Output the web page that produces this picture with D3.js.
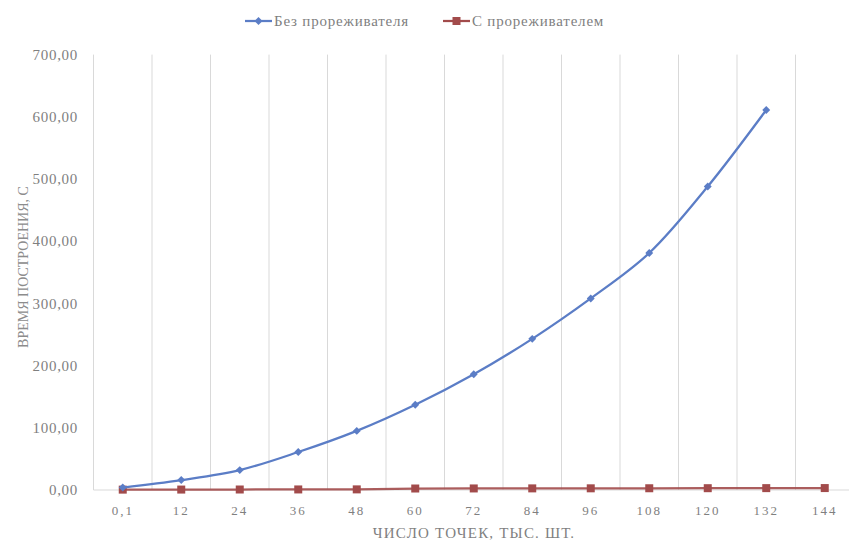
<!DOCTYPE html>
<html><head><meta charset="utf-8">
<script src="https://cdn.jsdelivr.net/npm/d3@7/dist/d3.min.js"></script>
<style>body{margin:0;background:#fff}svg{display:block}</style>
</head><body><svg id="c" width="849" height="545"></svg>
<script>
const categories = ["0,1","12","24","36","48","60","72","84","96","108","120","132","144"];
const seriesNames = ["Без прореживателя","С прореживателем"];
const withoutThinning = [4,16,32,61,95,137,186,243,308,381,488,611];
const withThinning = [0.6,0.7,0.8,0.9,1.0,2.4,2.5,2.6,2.7,2.8,2.9,3.0,3.1];
const yTicks = [0,100,200,300,400,500,600,700];
const yTitle = "ВРЕМЯ ПОСТРОЕНИЯ, С";
const xTitle = "ЧИСЛО ТОЧЕК, ТЫС. ШТ.";

const svg = d3.select("#c");
const font = "'Liberation Serif','DejaVu Serif',serif";
const blue = "#5b7dc6", red = "#a24b4b";
const L = 93.5, R = 854, T = 54.6, B = 490;

const x = d3.scaleBand().domain(categories).range([L, R]).paddingInner(0).paddingOuter(0);
const cx = d => x(d) + x.bandwidth()/2;
const y = d3.scaleLinear().domain([0,700]).range([B, T]);

// vertical gridlines
svg.append("g").selectAll("line").data(categories.slice(1)).join("line")
  .attr("x1", d => x(d)).attr("x2", d => x(d)).attr("y1", T).attr("y2", B)
  .attr("stroke", "#d9d9d9").attr("stroke-width", 1);
// axes lines
svg.append("line").attr("x1", L).attr("x2", L).attr("y1", T).attr("y2", B).attr("stroke", "#d9d9d9");
svg.append("line").attr("x1", L).attr("x2", R).attr("y1", B).attr("y2", B).attr("stroke", "#d9d9d9");

// y tick labels
const fmt = v => d3.format(".2f")(v).replace(".", ",");
svg.append("g").selectAll("text").data(yTicks).join("text")
  .attr("x", 78).attr("y", d => y(d)).attr("dy", "0.35em")
  .attr("text-anchor", "end").attr("font-family", font).attr("font-size", 15)
  .attr("letter-spacing", 0.7).attr("fill", "#7f7f7f").text(fmt);

// x tick labels
svg.append("g").selectAll("text").data(categories).join("text")
  .attr("x", d => cx(d)).attr("y", 510).attr("dy", "0.35em")
  .attr("text-anchor", "middle").attr("font-family", font).attr("font-size", 13)
  .attr("letter-spacing", 2).attr("fill", "#7f7f7f").text(d => d);

// axis titles
svg.append("text").attr("transform", `translate(23,267) rotate(-90)`)
  .attr("text-anchor", "middle").attr("dy", "0.35em").attr("font-family", font)
  .attr("font-size", 14).attr("fill", "#8c8c8c").text(yTitle);
svg.append("text").attr("x", 474).attr("y", 533).attr("dy", "0.35em")
  .attr("text-anchor", "middle").attr("font-family", font)
  .attr("font-size", 15).attr("letter-spacing", 1.2).attr("fill", "#7f7f7f").text(xTitle);

// red series
const lineRed = d3.line().x((d,i) => cx(categories[i])).y(d => y(d));
svg.append("path").datum(withThinning).attr("d", lineRed)
  .attr("fill", "none").attr("stroke", red).attr("stroke-width", 2.25).attr("stroke-opacity", 0.9);
svg.append("g").selectAll("rect").data(withThinning).join("rect")
  .attr("x", (d,i) => cx(categories[i]) - 4).attr("y", d => y(d) - 4)
  .attr("width", 8).attr("height", 8).attr("fill", red);

// blue series
const lineBlue = d3.line().x((d,i) => cx(categories[i])).y(d => y(d)).curve(d3.curveCatmullRom.alpha(0.5));
svg.append("path").datum(withoutThinning).attr("d", lineBlue)
  .attr("fill", "none").attr("stroke", blue).attr("stroke-width", 2.25);
const diamond = d3.symbol().type(d3.symbolDiamond2).size(40);
svg.append("g").selectAll("path").data(withoutThinning).join("path")
  .attr("transform", (d,i) => `translate(${cx(categories[i])},${y(d)})`)
  .attr("d", diamond).attr("fill", blue);

// legend
const lg = svg.append("g");
const items = [{name: seriesNames[0], color: blue, x0: 245, type: "d"}, {name: seriesNames[1], color: red, x0: 443, type: "s"}];
items.forEach(it => {
  lg.append("line").attr("x1", it.x0).attr("x2", it.x0 + 27).attr("y1", 21).attr("y2", 21)
    .attr("stroke", it.color).attr("stroke-width", 2.25);
  if (it.type === "d") {
    lg.append("path").attr("transform", `translate(${it.x0+13.5},21)`).attr("d", diamond).attr("fill", it.color);
  } else {
    lg.append("rect").attr("x", it.x0 + 9.5).attr("y", 17).attr("width", 8).attr("height", 8).attr("fill", it.color);
  }
  lg.append("text").attr("x", it.x0 + 29).attr("y", 21).attr("dy", "0.35em")
    .attr("font-family", font).attr("font-size", 15).attr("letter-spacing", 0.8).attr("fill", "#7f7f7f").text(it.name);
});
</script></body></html>
